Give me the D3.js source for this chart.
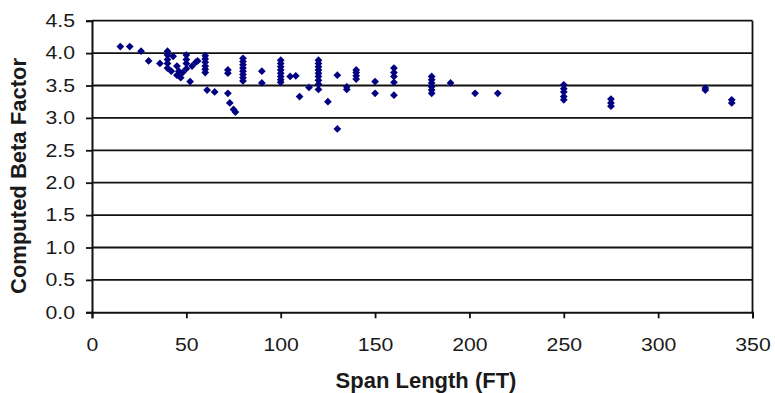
<!DOCTYPE html>
<html>
<head>
<meta charset="utf-8">
<script src="https://cdn.jsdelivr.net/npm/d3@7"></script>
<style>
  html, body { margin: 0; padding: 0; background: #fff; }
  svg { display: block; }
  text { font-family: "Liberation Sans", Arial, sans-serif; fill: #1a1a1a; }
</style>
</head>
<body>
<svg id="chart" width="775" height="393"></svg>
<script>
// Span length (ft) of each girder analysed
const spanLength = [
  15, 20, 26, 30, 36,
  40, 40, 40, 40, 40, 42, 43, 45, 45, 46, 47, 48, 50, 50, 50, 50, 52, 53, 55, 56,
  60, 60, 60, 60, 60, 60, 61, 65,
  72, 72, 72, 73, 75, 76,
  80, 80, 80, 80, 80, 80, 80, 80,
  90, 90,
  100, 100, 100, 100, 100, 100, 100, 100, 105, 108,
  110, 115,
  120, 120, 120, 120, 120, 120, 120, 120, 120, 125,
  130, 130, 135, 135, 140, 140, 140, 140,
  150, 150, 160, 160, 160, 160, 160,
  180, 180, 180, 180, 180, 180, 190,
  203, 215,
  250, 250, 250, 250, 250,
  275, 275, 275,
  325, 325, 339, 339
];
// Computed beta factor for each span above
const betaFactor = [
  4.10, 4.10, 4.03, 3.88, 3.84,
  4.03, 3.97, 3.90, 3.84, 3.77, 3.72, 3.95, 3.80, 3.66, 3.72, 3.62, 3.70, 3.97, 3.90, 3.84, 3.76, 3.56, 3.80, 3.86, 3.88,
  3.96, 3.91, 3.86, 3.80, 3.75, 3.70, 3.43, 3.40,
  3.74, 3.69, 3.38, 3.23, 3.13, 3.09,
  3.92, 3.87, 3.82, 3.77, 3.72, 3.67, 3.62, 3.57,
  3.72, 3.54,
  3.89, 3.84, 3.79, 3.74, 3.69, 3.64, 3.59, 3.55, 3.64, 3.65,
  3.33, 3.47,
  3.89, 3.84, 3.79, 3.74, 3.69, 3.64, 3.58, 3.52, 3.44, 3.25,
  3.66, 2.83, 3.48, 3.44, 3.74, 3.70, 3.65, 3.60,
  3.56, 3.38, 3.77, 3.70, 3.64, 3.55, 3.35,
  3.64, 3.59, 3.54, 3.48, 3.43, 3.38, 3.54,
  3.38, 3.38,
  3.51, 3.45, 3.40, 3.33, 3.28,
  3.29, 3.23, 3.18,
  3.46, 3.43, 3.28, 3.23
];
const xTicks = [0, 50, 100, 150, 200, 250, 300, 350];
const yTicks = [0, 0.5, 1.0, 1.5, 2.0, 2.5, 3.0, 3.5, 4.0, 4.5];

const svg = d3.select("#chart");
const plotLeft = 92, plotRight = 752.5, plotTop = 20.7, plotBottom = 312.3;
const stretch = 1.18; // wide tick lettering

const x = d3.scaleLinear().domain([0, 350]).range([plotLeft, plotRight]);
const y = d3.scaleLinear().domain([0, 4.5]).range([plotBottom, plotTop]);

// Horizontal gridlines (the 4.5 line doubles as the top border)
svg.append("g")
  .selectAll("line")
  .data(yTicks.filter(d => d > 0))
  .join("line")
  .attr("x1", plotLeft).attr("x2", plotRight)
  .attr("y1", d => y(d)).attr("y2", d => y(d))
  .attr("stroke", "#111").attr("stroke-width", 1.8);

// Right border of the plot area
svg.append("line")
  .attr("x1", plotRight).attr("x2", plotRight)
  .attr("y1", plotTop).attr("y2", plotBottom)
  .attr("stroke", "#111").attr("stroke-width", 1.8);

// Y axis
const yAxis = svg.append("g")
  .attr("transform", `translate(${plotLeft},0)`)
  .call(d3.axisLeft(y).tickValues(yTicks).tickFormat(d3.format(".1f")).tickSize(6).tickPadding(5));

// X axis
const xAxis = svg.append("g")
  .attr("transform", `translate(0,${plotBottom})`)
  .call(d3.axisBottom(x).tickValues(xTicks).tickFormat(d3.format("d")).tickSize(6).tickPadding(20));

[yAxis, xAxis].forEach(g => {
  g.select(".domain").attr("stroke", "#111").attr("stroke-width", 2);
  g.selectAll(".tick line").attr("stroke", "#111").attr("stroke-width", 1.8);
  g.selectAll(".tick text")
    .attr("fill", "#1a1a1a")
    .style("font-size", "18px")
    .style("font-family", "'Liberation Sans', Arial, sans-serif");
});
// Widen the tick lettering while keeping each label anchored at its tick
xAxis.selectAll(".tick text").attr("transform", `scale(${stretch},1)`);
yAxis.selectAll(".tick text")
  .attr("x", -17 / stretch)
  .attr("transform", `scale(${stretch},1)`);

// Data markers
const pts = spanLength.map((s, i) => ({ s, b: betaFactor[i] }));
const defs = svg.append("defs");
defs.append("filter").attr("id", "soft")
  .append("feGaussianBlur").attr("stdDeviation", 0.6);

svg.append("g")
  .attr("filter", "url(#soft)")
  .selectAll("path")
  .data(pts)
  .join("path")
  .attr("d", d3.symbol().type(d3.symbolSquare).size(30))
  .attr("transform", d => `translate(${x(d.s)},${y(d.b)}) rotate(45)`)
  .attr("fill", "#000080");

// Axis titles
svg.append("text")
  .attr("x", 426)
  .attr("y", 388)
  .attr("text-anchor", "middle")
  .style("font-size", "22px").style("font-weight", "bold")
  .text("Span Length (FT)");

svg.append("text")
  .attr("transform", `translate(26,176) rotate(-90)`)
  .attr("text-anchor", "middle")
  .style("font-size", "22px").style("font-weight", "bold")
  .text("Computed Beta Factor");
</script>
</body>
</html>
